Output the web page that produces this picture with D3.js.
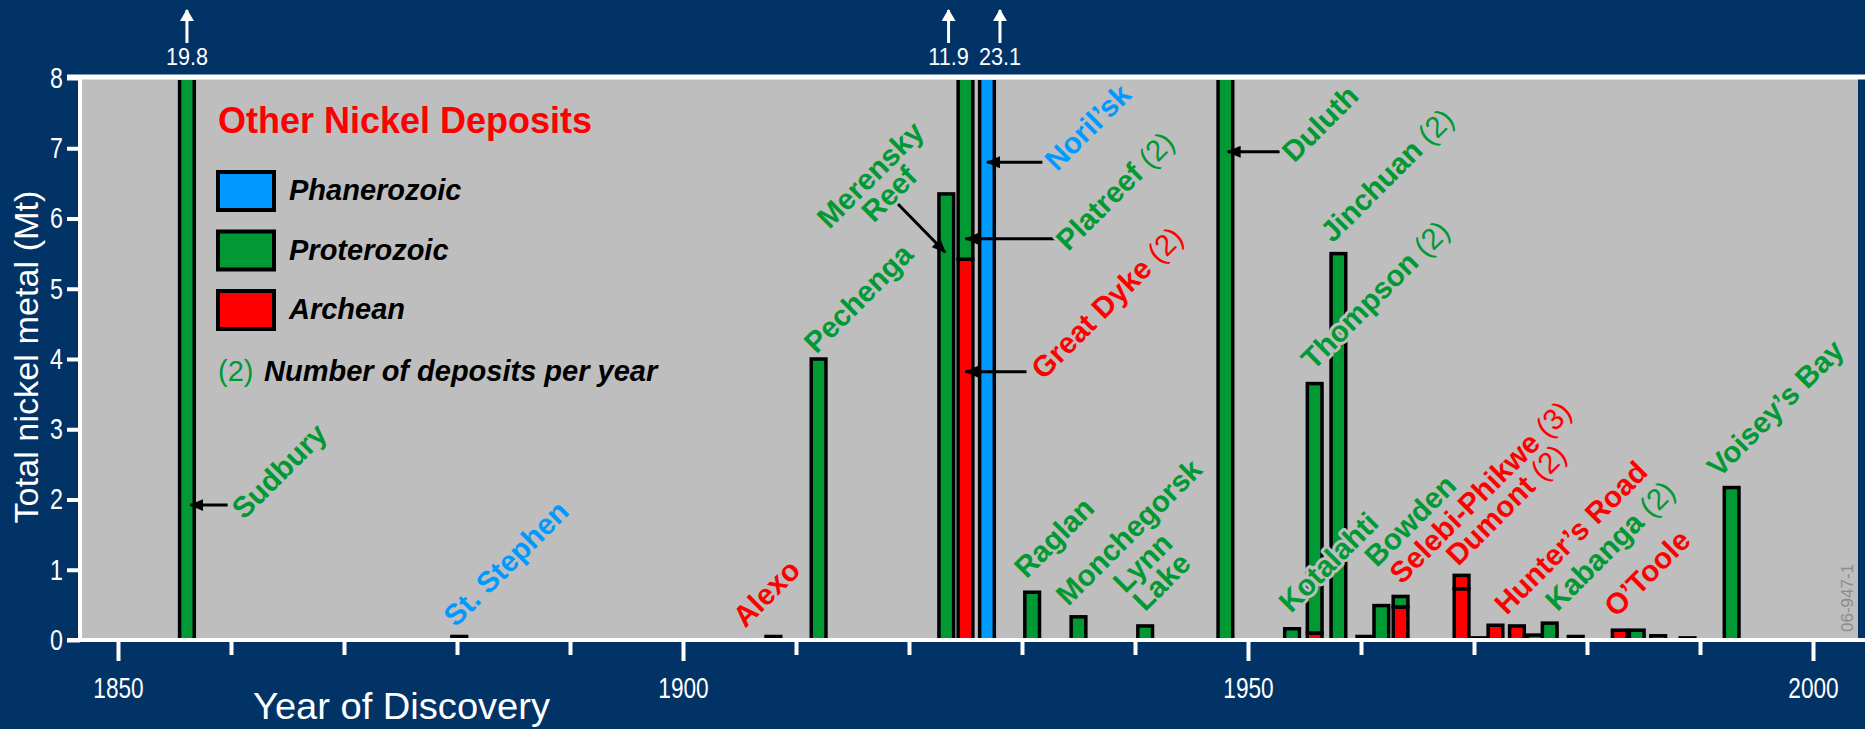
<!DOCTYPE html>
<html>
<head>
<meta charset="utf-8">
<script src="https://cdn.jsdelivr.net/npm/d3@7"></script>
<style>
  body { margin: 0; background: #023366; }
  svg { display: block; }
  text { font-family: "Liberation Sans", Arial, sans-serif; }
  .bold { font-weight: bold; }
</style>
</head>
<body>
<svg id="chart" width="1865" height="729"></svg>
<script>
// eras (legend categories)
const eras = ["Phanerozoic", "Proterozoic", "Archean"];
const eraColor = { Phanerozoic: "#0099ff", Proterozoic: "#009933", Archean: "#ff0000" };

// one entry per deposit group; same year = stacked bar
const depYear = [1856.1, 1880.2, 1908.0, 1912.0, 1923.3, 1925.0, 1925.0, 1926.9, 1930.9, 1935.0,
  1940.9, 1948.0, 1953.9, 1955.9, 1955.9, 1958.0, 1960.3, 1961.8, 1963.5, 1963.5,
  1968.9, 1968.9, 1970.4, 1971.9, 1973.8, 1975.4, 1976.7, 1979.0, 1982.9, 1984.4,
  1986.3, 1988.9, 1992.8];
const depEra = ["Proterozoic", "Phanerozoic", "Archean", "Proterozoic", "Proterozoic", "Archean", "Proterozoic", "Phanerozoic", "Proterozoic", "Proterozoic",
  "Proterozoic", "Proterozoic", "Proterozoic", "Archean", "Proterozoic", "Proterozoic", "Proterozoic", "Proterozoic", "Archean", "Proterozoic",
  "Archean", "Archean", "Proterozoic", "Archean", "Archean", "Proterozoic", "Proterozoic", "Proterozoic", "Archean", "Proterozoic",
  "Proterozoic", "Proterozoic", "Proterozoic"];
const depMt = [19.8, 0.05, 0.05, 4.0, 6.35, 5.42, 6.48, 23.1, 0.68, 0.33,
  0.2, 8.0, 0.16, 0.1, 3.55, 5.5, 0.05, 0.49, 0.47, 0.15,
  0.73, 0.19, 0.03, 0.21, 0.2, 0.07, 0.24, 0.05, 0.14, 0.14,
  0.06, 0.03, 2.17];

// bars that run off the top of the chart
const offYear = [1856.1, 1923.5, 1928.05];
const offText = ["19.8", "11.9", "23.1"];

// deposit names
const labelText = ["Sudbury", "St. Stephen", "Alexo", "Pechenga", "Merensky|Reef", "Noril’sk", "Platreef (2)",
  "Great Dyke (2)", "Raglan", "Monchegorsk", "Lynn|Lake", "Duluth", "Jinchuan (2)", "Thompson (2)",
  "Kotalahti", "Bowden", "Selebi-Phikwe (3)", "Dumont (2)", "Hunter’s Road", "Kabanga (2)", "O’Toole", "Voisey’s Bay"];
const labelEra = ["Proterozoic", "Phanerozoic", "Archean", "Proterozoic", "Proterozoic", "Phanerozoic", "Proterozoic",
  "Archean", "Proterozoic", "Proterozoic", "Proterozoic", "Proterozoic", "Proterozoic", "Proterozoic",
  "Proterozoic", "Proterozoic", "Archean", "Archean", "Archean", "Proterozoic", "Archean", "Proterozoic"];
const labelYear = [1861.15, 1879.9, 1905.5, 1911.8, 1917.2, 1933.1, 1934.1,
  1931.9, 1930.4, 1934.1, 1941.3, 1954.1, 1957.5, 1955.8,
  1953.8, 1961.4, 1963.6, 1968.6, 1972.9, 1977.4, 1982.6, 1991.7];
const labelMt = [1.70, 0.17, 0.16, 4.06, 6.52, 6.66, 5.52,
  3.69, 0.86, 0.47, 1.00, 6.78, 5.64, 3.83,
  0.37, 1.02, 0.78, 1.04, 0.34, 0.39, 0.31, 2.30];

// pointer arrows: [year, Mt] tail -> tip
const arrowFrom = [[1859.7, 1.92], [1919.0, 6.21], [1933.1, 5.71], [1931.8, 6.80], [1930.4, 3.82], [1952.8, 6.95]];
const arrowTo = [[1856.4, 1.92], [1923.2, 5.52], [1925.0, 5.71], [1926.9, 6.80], [1925.0, 3.82], [1948.2, 6.95]];

const yTicks = [0, 1, 2, 3, 4, 5, 6, 7, 8];
const xTicks = d3.range(1850, 2001, 10);

var svg = d3.select("#chart");
var W = 1865, H = 729;
var navy = "#023366";
var plotGray = "#bebebe";

var x = d3.scaleLinear().domain([1850, 2000]).range([118, 1813]);
var y = d3.scaleLinear().domain([0, 8]).range([640, 78]);
var barW = x(1851.3) - x(1850);

// condensed look: squeeze glyphs horizontally
function squeeze(sel, ratio) {
  sel.each(function() {
    const w = this.getComputedTextLength();
    d3.select(this).attr("textLength", w * ratio).attr("lengthAdjust", "spacingAndGlyphs");
  });
}

svg.append("rect").attr("width", W).attr("height", H).attr("fill", navy);

var defs = svg.append("defs");
defs.append("clipPath").attr("id", "plotClip")
  .append("rect").attr("x", 82).attr("y", y(8) + 2).attr("width", W - 82).attr("height", y(0) - y(8));
defs.append("marker").attr("id", "headBlack")
  .attr("markerUnits", "userSpaceOnUse")
  .attr("viewBox", "0 0 14 12").attr("refX", 13).attr("refY", 6)
  .attr("markerWidth", 14).attr("markerHeight", 12).attr("orient", "auto")
  .append("path").attr("d", "M0,0 L14,6 L0,12 z").attr("fill", "#000");
defs.append("marker").attr("id", "headWhite")
  .attr("markerUnits", "userSpaceOnUse")
  .attr("viewBox", "0 0 12 14").attr("refX", 11).attr("refY", 7)
  .attr("markerWidth", 12).attr("markerHeight", 14).attr("orient", "auto")
  .append("path").attr("d", "M0,0 L12,7 L0,14 z").attr("fill", "#fff");

// plot background
svg.append("rect")
  .attr("x", 82).attr("y", y(8))
  .attr("width", 1776).attr("height", y(0) - y(8))
  .attr("fill", plotGray);

// stack deposits by year
var stacks = [];
depYear.forEach((yr, i) => {
  let s = stacks.find(t => t.year === yr);
  if (!s) {
    s = { year: yr, total: 0, segs: [] };
    stacks.push(s);
  }
  s.segs.push({ era: depEra[i], y0: s.total, y1: s.total + depMt[i] });
  s.total += depMt[i];
});

var bars = svg.append("g").attr("clip-path", "url(#plotClip)");
stacks.forEach(s => {
  s.segs.forEach(seg => {
    bars.append("rect")
      .attr("x", x(s.year) - barW / 2)
      .attr("y", y(seg.y1))
      .attr("width", barW)
      .attr("height", y(seg.y0) - y(seg.y1))
      .attr("fill", eraColor[seg.era])
      .attr("stroke", "#000")
      .attr("stroke-width", 3.5);
  });
});

// axes
var xAxis = svg.append("g").attr("transform", `translate(0, ${y(0)})`)
  .call(d3.axisBottom(x).tickValues(xTicks).tickSize(0).tickFormat(d => d % 50 === 0 ? d : ""));
xAxis.select(".domain").remove();
xAxis.selectAll(".tick line")
  .attr("y2", d => d % 50 === 0 ? 21 : 15)
  .attr("stroke", "#fff").attr("stroke-width", 4);
xAxis.selectAll(".tick text")
  .attr("y", 58).attr("dy", null)
  .attr("fill", "#fff").style("font-size", "29px")
  .style("font-family", "'Liberation Sans', Arial, sans-serif");
squeeze(xAxis.selectAll(".tick text").filter(d => d % 50 === 0), 0.78);

var yAxis = svg.append("g").attr("transform", "translate(80, 0)")
  .call(d3.axisLeft(y).tickValues(yTicks).tickSize(13).tickPadding(4));
yAxis.select(".domain").remove();
yAxis.selectAll(".tick line").attr("stroke", "#fff").attr("stroke-width", 4);
yAxis.selectAll(".tick text")
  .attr("fill", "#fff").style("font-size", "29px")
  .style("font-family", "'Liberation Sans', Arial, sans-serif");
squeeze(yAxis.selectAll(".tick text"), 0.8);

// white frame lines
svg.append("line").attr("x1", 80).attr("x2", 80).attr("y1", y(8) - 2).attr("y2", y(0) + 2)
  .attr("stroke", "#fff").attr("stroke-width", 4);
svg.append("line").attr("x1", 67).attr("x2", W).attr("y1", y(8) - 1).attr("y2", y(8) - 1)
  .attr("stroke", "#fff").attr("stroke-width", 5);
svg.append("line").attr("x1", 67).attr("x2", W).attr("y1", y(0)).attr("y2", y(0))
  .attr("stroke", "#fff").attr("stroke-width", 4);

svg.append("text")
  .attr("x", 253).attr("y", 719)
  .attr("textLength", 297).attr("lengthAdjust", "spacingAndGlyphs")
  .attr("fill", "#fff").style("font-size", "36px")
  .text("Year of Discovery");

svg.append("text")
  .attr("transform", "translate(38, 357) rotate(-90)")
  .attr("text-anchor", "middle")
  .attr("textLength", 333).attr("lengthAdjust", "spacingAndGlyphs")
  .attr("fill", "#fff").style("font-size", "34px")
  .text("Total nickel metal (Mt)");

// off-scale values above the chart
offYear.forEach((yr, i) => {
  svg.append("line")
    .attr("x1", x(yr)).attr("x2", x(yr))
    .attr("y1", 43).attr("y2", 10)
    .attr("stroke", "#fff").attr("stroke-width", 3)
    .attr("marker-end", "url(#headWhite)");
  const t = svg.append("text")
    .attr("x", x(yr)).attr("y", 65)
    .attr("text-anchor", "middle")
    .attr("fill", "#fff").style("font-size", "24px")
    .text(offText[i]);
  squeeze(t, 0.9);
});

// pointer arrows
arrowFrom.forEach((a, i) => {
  svg.append("line")
    .attr("x1", x(a[0])).attr("y1", y(a[1]))
    .attr("x2", x(arrowTo[i][0])).attr("y2", y(arrowTo[i][1]))
    .attr("stroke", "#000").attr("stroke-width", 3)
    .attr("marker-end", "url(#headBlack)");
});

// deposit labels, rotated 45 degrees, with a gray knock-out halo
labelText.forEach((t, i) => {
  const lines = t.split("|");
  const multi = lines.length > 1;
  const txt = svg.append("text")
    .attr("class", "bold")
    .attr("transform", `translate(${x(labelYear[i])}, ${y(labelMt[i])}) rotate(-45)`)
    .attr("text-anchor", multi ? "middle" : "start")
    .attr("fill", eraColor[labelEra[i]])
    .attr("stroke", plotGray).attr("stroke-width", 6)
    .attr("stroke-linejoin", "round")
    .style("paint-order", "stroke")
    .style("font-size", "29.5px");
  lines.forEach((ln, j) => {
    const m = ln.match(/^(.*?)( \(\d\))?$/);
    txt.append("tspan").attr("x", 0).attr("dy", j === 0 ? 0 : 27).text(m[1]);
    if (m[2]) {
      txt.append("tspan").style("font-weight", "normal").text(m[2]);
    }
  });
});

// legend
var legend = svg.append("g");
legend.append("text")
  .attr("class", "bold")
  .attr("x", 218).attr("y", 133)
  .attr("fill", "#ff0000").style("font-size", "36px")
  .text("Other Nickel Deposits");
eras.forEach((e, i) => {
  legend.append("rect")
    .attr("x", 218).attr("y", 172 + i * 59.5)
    .attr("width", 56).attr("height", 38)
    .attr("fill", eraColor[e]).attr("stroke", "#000").attr("stroke-width", 4);
  legend.append("text")
    .attr("class", "bold")
    .attr("x", 289).attr("y", 200 + i * 59.5)
    .attr("fill", "#000").style("font-size", "29px").style("font-style", "italic")
    .text(e);
});
legend.append("text")
  .attr("x", 218).attr("y", 381)
  .attr("fill", "#009933").style("font-size", "29px")
  .text("(2)");
legend.append("text")
  .attr("class", "bold")
  .attr("x", 264).attr("y", 381)
  .attr("fill", "#000").style("font-size", "29px").style("font-style", "italic")
  .text("Number of deposits per year");

// figure id
svg.append("text")
  .attr("transform", "translate(1853, 632) rotate(-90)")
  .attr("fill", "#8c8c8c").style("font-size", "17px")
  .text("06-947-1");
</script>
</body>
</html>
